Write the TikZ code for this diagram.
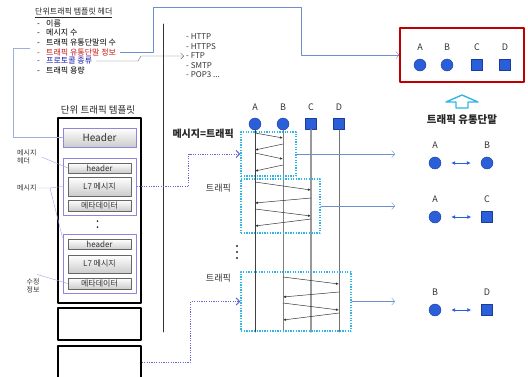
\documentclass[tikz,border=0pt]{standalone}
\usepackage{fontspec}
\newfontfamily\kr{Noto Sans CJK KR}
\usetikzlibrary{arrows.meta,positioning}

\definecolor{termblue}{HTML}{2B5FD9}
\definecolor{termedge}{HTML}{1C3C99}
\definecolor{linkblue}{HTML}{6E8ED0}
\definecolor{paleblue}{HTML}{9AB0DE}
\definecolor{trafcyan}{HTML}{2DB6E6}
\definecolor{feedpurple}{HTML}{6767D6}
\definecolor{framered}{HTML}{C00000}
\definecolor{grppurple}{HTML}{8D86DB}
\definecolor{fieldred}{HTML}{E8211E}
\definecolor{fieldblue}{HTML}{1F1FCC}

\tikzset{
  termcirc/.style={circle, draw=termedge, fill=termblue, minimum size=12pt, inner sep=0pt},
  termsq/.style={rectangle, draw=termedge, fill=termblue, minimum size=11pt, inner sep=0pt},
  termlbl/.style={font=\kr\fontsize{9}{10}\selectfont, text=black!80, label distance=4pt},
  sidetext/.style={font=\kr\fontsize{7}{8.5}\selectfont, inner sep=0pt, text=black!80},
  cell/.style={draw=black!60, top color=white, bottom color=black!20, inner sep=0pt,
    font=\kr\fontsize{8}{9}\selectfont, text=black!80, minimum width=63pt},
  msggroup/.style={draw=grppurple, line width=1pt, fill=white, minimum width=73pt},
  slot/.style={draw=black, line width=1.6pt, minimum width=83pt},
  trafbox/.style={draw=trafcyan, line width=1.3pt, line cap=butt, dash pattern=on 1.3pt off 1.3pt, inner sep=0pt},
  leader/.style={draw=grppurple!80, thin},
  feed/.style={draw=feedpurple, line width=1pt, line cap=butt, dash pattern=on 1.2pt off 1.2pt,
    -{Straight Barb[length=3.5pt,width=7pt,line cap=round]}},
  outlink/.style={draw=linkblue, -{Straight Barb[length=3pt,width=7pt]}},
  msg/.style={draw=black!80, line width=0.5pt, -{Latex[length=3pt,width=2.4pt]}},
  pairlink/.style={draw=termblue, line width=0.9pt,
    {Latex[length=4pt,width=4pt]}-{Latex[length=4pt,width=4pt]}, shorten <=10pt, shorten >=10pt}
}

\begin{document}
\begin{tikzpicture}[x=1pt, y=-1pt, line cap=round, line join=round, font=\kr\fontsize{8}{9.5}\selectfont]
  \useasboundingbox (0,0) rectangle (528,376);

  % ── Template header fields ───────────────────────────────────────────────────

  \node[anchor=west, inner sep=0pt, font=\kr\fontsize{8}{9}\selectfont, text=black!85] (thead) at (35,13)
    {\underline{단위트래픽 템플릿 헤더}};
  \foreach \i/\y/\c/\t in {1/24/black/이름, 2/33/black/메시지 수, 3/42.5/black/트래픽 유통단말의 수,
                           4/52/fieldred/트래픽 유통단말 정보, 5/61/fieldblue/프로토콜 종류, 6/70.5/black/트래픽 용량}
    \node[anchor=west, inner sep=0pt, text=\c!85!black, font=\kr\fontsize{8}{9}\selectfont] (f\i) at (37,\y)
      {\makebox[9pt][l]{-}\t};
  \coordinate (hfield) at (30,48);

  % Protocol list
  \node[anchor=west, align=left, inner sep=2pt, text=black!80,
        font=\kr\fontsize{8}{9.5}\selectfont] (proto) at (184,56)
    {- HTTP\\- HTTPS\\- FTP\\- SMTP\\- POP3 ...};
  \draw[black!60, -{Straight Barb[length=3pt,width=6pt]}]
    ([xshift=4pt]f5.east) -- (138,61) -- (141,56) -- (proto.west);

  % Divider
  \draw[black!80, line width=0.6pt] (163,24) -- (163,332);

  % ── Unit traffic template ────────────────────────────────────────────────────

  \node[font=\kr\fontsize{9.5}{10}\selectfont, text=black!85] (ttitle) at (98,110) {단위 트래픽 템플릿};
  \node[slot, minimum height=185pt] (tmplA) at (99.5,210.5) {};
  \node[slot, minimum height=32pt]  (tmplB) at (99.5,324) {};
  \node[slot, minimum height=40pt]  (tmplC) at (99.5,366) {};

  \node[cell, draw=grppurple, line width=0.9pt, minimum width=73pt, minimum height=19pt,
        font=\kr\fontsize{10}{11}\selectfont] (hdr) at (99.5,137.5) {Header};

  \node[msggroup, minimum height=57pt] (grpA) at (99.5,186.5) {};
  \node[cell, minimum height=10pt] (hdrA)  at (99.5,168)   {header};
  \node[cell, minimum height=19pt] (l7A)   at (99.5,186.5) {L7 메시지};
  \node[cell, minimum height=11pt] (metaA) at (99.5,205.5) {메타데이터};

  \fill[black!80] (97.5,221) circle (1pt) (97.5,227) circle (1pt);

  \node[msggroup, minimum height=59pt] (grpB) at (99.5,263.5) {};
  \node[cell, minimum height=10pt] (hdrB)  at (99.5,244.5) {header};
  \node[cell, minimum height=18pt] (l7B)   at (99.5,264)   {L7 메시지};
  \node[cell, minimum height=11pt] (metaB) at (99.5,283.5) {메타데이터};

  % Side labels
  \node[sidetext, align=left, anchor=west] (lblhdr) at (17,157) {메시지\\헤더};
  \node[sidetext, anchor=west]             (lblmsg) at (17,188) {메시지};
  \node[sidetext, align=center]            (lblfix) at (33,286) {수정\\정보};
  \coordinate (msgfork) at (50,188);

  \draw[leader] ([xshift=5pt]lblhdr.east) -- (hdrA.west);
  \draw[leader] ([xshift=2pt]lblmsg.east) -- (msgfork) -- (grpA.west);
  \draw[leader] (msgfork) -- ([yshift=-4pt]grpB.north west);
  \draw[leader] ([shift={(4pt,4pt)}]lblfix.north) -- (metaB.west);

  % Header fields to template header
  \draw[paleblue] (hfield) -- (13,48) |- (hdr.west);

  % ── Traffic endpoints ────────────────────────────────────────────────────────

  \node[draw=framered, line width=1.6pt, minimum width=124pt, minimum height=54pt] (frame) at (462,55) {};
  \foreach \n/\x/\s in {A/420/termcirc, B/447/termcirc, C/477/termsq, D/505/termsq}
    \node[\s, label={[termlbl, label distance=5pt]above:\n}] (f\n) at (\x,65) {};

  \draw[outlink] ([xshift=4pt]f4.east) -| (153,7) -| (301,55) -- (frame.west);

  % Hollow up arrow
  \draw[trafcyan, line width=1.4pt, fill=white]
    (456,108) -- (456,102) -- (446,102) -- (462,95) -- (478,102) -- (468,102) -- (468,108) -- cycle;
  \node[font=\kr\bfseries\fontsize{10.5}{11}\selectfont, text=black!85] (tu) at (462,120) {트래픽 유통단말};

  % ── Sequence of traffic ──────────────────────────────────────────────────────

  \foreach \n/\x/\s in {A/255/termcirc, B/283/termcirc, C/311/termsq, D/339/termsq}
    \node[\s, label={[termlbl]above:\n}] (s\n) at (\x,124) {};

  \draw[black!75, line width=0.7pt] (sA.south) -- (sA |- 0,332);
  \draw[black!50, line width=0.7pt] (sB.south) -- (sB |- 0,332);
  \draw[black!40, line width=1.4pt] (sC.south) -- (sC |- 0,332);
  \draw[black!55, line width=0.7pt] (sD.south) -- (sD |- 0,332);

  \foreach \f/\t/\ya/\yb in {A/B/133/138, B/A/144/150, A/B/153/159, B/A/165/171,
                             A/C/182/190, C/A/198/203, A/C/209/216, C/A/219/226,
                             B/D/277/284, D/B/292/297, B/D/303/310, D/B/313/320}
    \draw[msg] (s\f |- 0,\ya) -- (s\t |- 0,\yb);

  \node[trafbox, minimum width=55pt,  minimum height=44pt] (tA) at (268.5,154) {};
  \node[trafbox, minimum width=79pt,  minimum height=54pt] (tB) at (280.5,206) {};
  \node[trafbox, minimum width=110pt, minimum height=59pt] (tC) at (296,301.5) {};

  \node[anchor=east, font=\kr\bfseries\fontsize{10}{11}\selectfont, text=black!85] (ltA)
    at ([xshift=-3pt,yshift=-2pt]tA.north west) {메시지=트래픽};
  \node[anchor=east, font=\kr\fontsize{9}{10}\selectfont, text=black!80] (ltB)
    at ([xshift=-6pt,yshift=-10pt]tB.north west) {트래픽};
  \node[anchor=east, font=\kr\fontsize{9}{10}\selectfont, text=black!80] (ltC)
    at ([xshift=-6pt,yshift=-7pt]tC.north west) {트래픽};

  \foreach \y in {246,252,258}
    \fill[black!85] (237,\y) circle (1.2pt);

  % Template to traffic
  \draw[feed] (l7A.east -| grpA.east) -- ++(52,0) |- (tA.west);
  \draw[feed] ([yshift=4pt]tmplC.east) -- ++(49,0) |- (tC.west);

  % ── Endpoint pairs ───────────────────────────────────────────────────────────

  \node[termcirc, label={[termlbl, label distance=5pt]above:A}] (p1A) at (435,163) {};
  \node[termcirc, label={[termlbl, label distance=5pt]above:B}] (p1B) at (487,163) {};
  \node[termcirc, label={[termlbl, label distance=5pt]above:A}] (p2A) at (435,217) {};
  \node[termsq,   label={[termlbl, label distance=5pt]above:C}] (p2C) at (487,217) {};
  \node[termcirc, label={[termlbl, label distance=5pt]above:B}] (p3B) at (435,310) {};
  \node[termsq,   label={[termlbl, label distance=5pt]above:D}] (p3D) at (487,310) {};

  \draw[pairlink] (p1A) -- (p1B);
  \draw[pairlink] (p2A) -- (p2C);
  \draw[pairlink] (p3B) -- (p3D);

  \coordinate (rA) at (395,154);
  \coordinate (rB) at (395,206);
  \coordinate (rC) at (395,301.5);
  \draw[outlink] (tA.east) -- (rA);
  \draw[outlink] (tB.east) -- (rB);
  \draw[outlink] (tC.east) -- (rC);

\end{tikzpicture}
\end{document}
